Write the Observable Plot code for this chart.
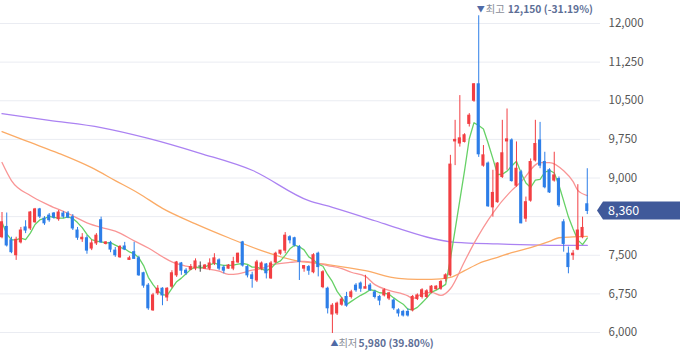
<!DOCTYPE html>
<html>
<head>
<meta charset="utf-8">
<script src="https://cdn.jsdelivr.net/npm/d3@7"></script>
<script src="https://cdn.jsdelivr.net/npm/@observablehq/plot@0.6"></script>
<style>
  html, body { margin: 0; padding: 0; background: #fff; }
  #chart { width: 680px; height: 358px; overflow: hidden; }
</style>
</head>
<body>
<div id="chart"></div>
<script>
// ---- Data ----
const open = [7850,8050,7790,7500,7750,8040,8020,8140,8390,8210,8270,8310,8200,8310,8310,8240,7980,7810,7830,7630,
  7730,8180,7720,7740,7590,7460,7670,7410,7560,7440,7150,6910,6430,6760,6850,6680,6890,7110,7340,7200,
  7220,7240,7280,7240,7240,7340,7400,7260,7240,7240,7360,7750,7270,7110,7010,7240,7320,7050,7360,7530,
  7590,7850,7830,7660,7240,7270,7170,7530,6880,6850,6350,6370,6540,6690,6690,6910,6950,6850,6910,6780,
  6690,6720,6660,6620,6430,6400,6400,6430,6650,6690,6690,6780,6840,6850,7040,7110,9710,9670,9700,10050,
  10500,10820,9240,9280,8430,8530,9020,9710,9730,8850,9110,8210,8560,9340,9730,9310,9150,8950,8980,8140,
  7530,7500,7610,7850,8490];
const high = [8330,8320,7850,7850,8040,8170,8350,8410,8410,8250,8310,8330,8370,8350,8350,8290,8040,7920,7880,7790,
  7920,8240,7760,7770,7650,7690,7750,7480,7750,7480,7170,6950,6760,6910,6870,6870,7200,7380,7360,7240,
  7320,7430,7370,7320,7430,7530,7430,7300,7320,7460,7540,7770,7300,7170,7400,7370,7340,7380,7560,7590,
  7940,7880,7850,7690,7300,7300,7530,7560,7200,6880,6560,6590,6680,6780,6820,6950,6980,7110,6950,6820,
  6720,6850,6780,6650,6460,6430,6460,6720,6750,6850,6830,6910,6910,7010,7140,9440,10120,10600,9860,10250,
  10830,12150,9630,9310,9150,9300,10120,10340,9760,9700,9150,8630,9370,10120,10080,9500,9180,9500,9020,8190,
  7660,7590,8870,8240,9180];
const low = [7820,7660,7530,7400,7720,7920,7980,8120,8210,8080,8140,8200,8160,8210,8210,7980,7790,7750,7520,7590,
  7690,7730,7700,7550,7460,7440,7590,7400,7420,7090,6860,6430,6410,6720,6520,6600,6850,7070,7110,7110,
  7200,7200,7170,7230,7200,7300,7200,7140,7230,7200,7340,7270,7060,6860,6970,7200,7040,7030,7340,7500,
  7530,7720,7660,7010,7170,7110,7140,7080,6850,6360,5980,6330,6510,6490,6650,6780,6780,6850,6800,6650,
  6520,6690,6620,6430,6300,6300,6300,6400,6620,6650,6660,6750,6820,6820,6980,7080,9240,9600,9680,9990,
  10470,9400,9210,8430,8240,8510,8990,9150,8920,8820,8110,8140,8530,9310,9180,8790,8700,8920,8430,7560,
  7140,7400,7590,7820,8290];
const close = [8140,7690,7560,7800,7980,7980,8330,8390,8250,8120,8180,8230,8330,8250,8230,8020,7840,7840,7590,7730,
  7880,7750,7750,7610,7500,7660,7610,7440,7430,7110,6910,6470,6720,6850,6720,6850,7150,7360,7200,7150,
  7270,7380,7280,7300,7340,7440,7240,7200,7300,7370,7530,7300,7110,7040,7360,7340,7150,7340,7530,7590,
  7880,7790,7690,7370,7290,7200,7500,7270,7170,6470,6520,6560,6640,6520,6780,6820,6850,6880,6820,6690,
  6620,6820,6760,6470,6370,6330,6330,6690,6720,6820,6800,6890,6890,6980,7110,9260,9740,9770,9830,10210,
  10820,9460,9440,8450,8710,9280,9480,9750,8940,9180,8120,8530,9310,9660,9240,8820,8720,9050,8470,7720,
  7270,7530,7980,8030,8360];

// moving-average lines (candle index, price)
const ma20Idx = [0,2,6,10,14,18,21,24,28,31,34,36,39,43,46,48,50,53,55,57,61,64,66,69,72,74,77,79,82,86,87,89,91,93,95,98,100,104,108,110,114,116,119,121,122,124];
const ma20Val = [9300,8950,8660,8470,8310,8130,8040,7970,7780,7640,7470,7370,7290,7240,7190,7130,7140,7210,7240,7310,7360,7380,7360,7300,7240,7170,7090,6930,6820,6710,6660,6750,6780,6720,6850,7380,7730,8320,8760,8930,9300,9300,9140,8930,8760,8660];
const ma60Idx = [0,6,12,19,24,29,34,41,48,55,62,69,77,84,88,91,95,98,101,105,108,112,116,118,121,124];
const ma60Val = [9900,9690,9480,9200,8950,8700,8410,8110,7840,7590,7400,7320,7200,7050,7030,7030,7070,7200,7340,7460,7550,7650,7770,7840,7855,7865];
const ma120Idx = [0,10,21,31,42,53,65,70,79,84,91,95,98,105,112,119,124];
const ma120Val = [10250,10120,9980,9770,9480,9150,8560,8430,8170,8020,7830,7760,7740,7720,7700,7690,7690];

const yTicks = [6000,6750,7500,8250,9000,9750,10500,11250,12000];

// ---- Build tables ----
const candles = close.map((c, i) => ({
  i, open: open[i], high: high[i], low: low[i], close: c,
  lo: Math.min(open[i], c), hi: Math.max(open[i], c)
}));
const toPts = (idx, val) => idx.map((k, j) => ({i: k, v: val[j]}));
const ma20 = toPts(ma20Idx, ma20Val);
const ma60 = toPts(ma60Idx, ma60Val);
const ma120 = toPts(ma120Idx, ma120Val);

const UP = "#f23f43", DOWN = "#2d7ee8", FLAT = "#444";
const col = d => d.close > d.open ? UP : d.close < d.open ? DOWN : FLAT;

const n = close.length;
const step = 4.72, firstX = 1.5, plotRight = 600;
const xDomain = [-firstX / step, (plotRight - firstX) / step];

const iMax = d3.maxIndex(high), iMin = d3.minIndex(low);
const last = close[n - 1];
const fmt = d3.format(",");
const pct = v => (v >= 0 ? "" : "-") + Math.abs(v * 100).toFixed(2) + "%";
const maxTxt = `${fmt(high[iMax])} (${pct((last - high[iMax]) / high[iMax])})`;
const minTxt = `${fmt(low[iMin])} (${pct((last - low[iMin]) / low[iMin])})`;

// tick labels: the one under the current-price badge is covered in the reference
const labelTicks = yTicks.filter(t => Math.abs(t - last) > 200);

const FONT = "'Noto Sans CJK KR','Noto Sans',sans-serif";
const ann = {textAnchor: "start", fontSize: 10.3, letterSpacing: "-0.4px"};

const chart = Plot.plot({
  width: 680, height: 358,
  marginLeft: 0, marginRight: 80, marginTop: 23, marginBottom: 26,
  x: {domain: xDomain, axis: null},
  y: {domain: [6000, 12000], axis: null},
  color: {type: "identity"},
  style: {background: "white", fontFamily: FONT, overflow: "visible"},
  marks: [
    Plot.gridY(yTicks, {stroke: "#eaecf2", strokeOpacity: 1}),
    Plot.axisY(labelTicks, {anchor: "right", tickSize: 0, tickPadding: 8, tickFormat: fmt, label: null,
      fontSize: 11.5, color: "#555"}),
    Plot.line(ma120, {x: "i", y: "v", stroke: "#ab82f2", strokeWidth: 1.3, curve: "monotone-x"}),
    Plot.line(ma60, {x: "i", y: "v", stroke: "#fbab66", strokeWidth: 1.3, curve: "monotone-x"}),
    Plot.line(ma20, {x: "i", y: "v", stroke: "#f99595", strokeWidth: 1.3, curve: "monotone-x"}),
    Plot.lineY(candles, Plot.windowY({k: 5, anchor: "end"}, {x: "i", y: "close", stroke: "#66d166", strokeWidth: 1.3})),
    Plot.ruleX(candles, {x: "i", y1: "low", y2: "high", stroke: col, strokeWidth: 1}),
    Plot.rect(candles, {x1: d => d.i - 0.33, x2: d => d.i + 0.33, y1: "lo", y2: "hi", fill: col,
      insetTop: -0.5, insetBottom: -0.5}),
    // high / low annotations
    Plot.text([iMax], {x: d => d, y: d => high[d], text: () => "▼", dx: -2, dy: -6, textAnchor: "start",
      fill: "#4f6aa6", fontSize: 8}),
    Plot.text([iMax], {x: d => d, y: d => high[d], text: () => "최고", dx: 7, dy: -6, ...ann, fill: "#8a8e98"}),
    Plot.text([iMax], {x: d => d, y: d => high[d], text: () => maxTxt, dx: 29, dy: -6, ...ann,
      fill: "#5d6e96", fontWeight: 600}),
    Plot.text([iMin], {x: d => d, y: d => low[d], text: () => "▲", dx: -2, dy: 10, textAnchor: "start",
      fill: "#4f6aa6", fontSize: 8}),
    Plot.text([iMin], {x: d => d, y: d => low[d], text: () => "최저", dx: 6, dy: 10, ...ann, fill: "#8a8e98"}),
    Plot.text([iMin], {x: d => d, y: d => low[d], text: () => minTxt, dx: 26, dy: 10, ...ann,
      fill: "#5d6e96", fontWeight: 600})
  ]
});

// current-price badge placed with the chart's own y scale
const yS = chart.scale("y");
const yc = yS.apply(last);
const sel = d3.select(chart);
const bx = plotRight - 3;
sel.append("path")
  .attr("d", `M${bx},${yc} L${bx + 6},${yc - 9} L680,${yc - 9} L680,${yc + 9} L${bx + 6},${yc + 9} Z`)
  .attr("fill", "#40599a");
sel.append("text")
  .attr("x", bx + 11).attr("y", yc).attr("dy", "0.35em")
  .attr("text-anchor", "start")
  .attr("fill", "#fff").attr("font-size", 12.5).attr("font-family", FONT)
  .text(fmt(last));

document.getElementById("chart").appendChild(chart);
</script>
</body>
</html>
